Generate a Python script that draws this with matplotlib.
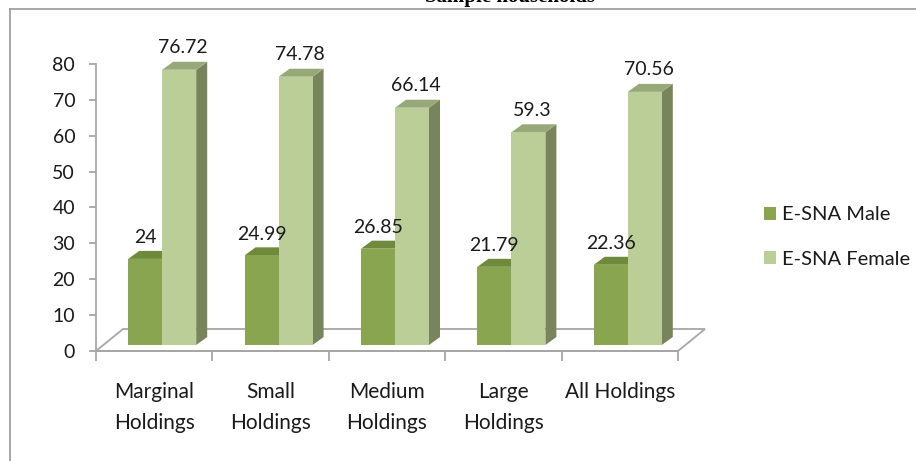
import matplotlib
matplotlib.use("Agg")
import matplotlib.pyplot as plt
from matplotlib.patches import Polygon, Patch
from matplotlib.lines import Line2D
import numpy as np

categories = ["Marginal\nHoldings", "Small\nHoldings", "Medium\nHoldings", "Large\nHoldings", "All Holdings"]
male = [24, 24.99, 26.85, 21.79, 22.36]
female = [76.72, 74.78, 66.14, 59.3, 70.56]
labels_male = ["24", "24.99", "26.85", "21.79", "22.36"]
labels_female = ["76.72", "74.78", "66.14", "59.3", "70.56"]

W, H = 916, 461
plt.rcParams['font.family'] = ['Lato', 'DejaVu Sans']
fig = plt.figure(figsize=(W / 100, H / 100), dpi=100)

# axes placed in pixels: x from 97 to 679, y=0 at 351, y=80 at 64
ax_l, ax_r, ax_b, ax_t = 96, 678, 351, 64
ax = fig.add_axes([ax_l / W, (H - ax_b) / H, (ax_r - ax_l) / W, (ax_b - ax_t) / H])
ax.set_xlim(-0.5, 4.5)
ax.set_ylim(0, 80)
pxx = (ax_r - ax_l) / 5.0   # px per x unit
pxy = (ax_b - ax_t) / 80.0  # px per y unit

grey = "#A6A6A6"
txt = "#1a1a1a"

# floor outline (3D look)
fdx, fdy = 27 / pxx, 22 / pxy
floor = Polygon([(-0.5, 0), (4.5, 0), (4.5 + fdx, fdy), (-0.5 + fdx, fdy)],
                closed=True, fill=False, edgecolor=grey, lw=1.3, clip_on=False, zorder=1)
ax.add_patch(floor)

# bars
bw = 34 / pxx
shift = 8 / pxx
lift = 6 / pxy
ddx, ddy = 11 / pxx, 8 / pxy
cols_m = ("#8AA54F", "#6E8A3A", "#647D36")
cols_f = ("#BBCE97", "#97A979", "#78855C")

def bar3d(x0, val, cols, z):
    front, top, side = cols
    b = lift
    t = lift + val
    x1 = x0 + bw
    ax.add_patch(Polygon([(x1, b), (x1 + ddx, b + ddy), (x1 + ddx, t + ddy), (x1, t)],
                         closed=True, facecolor=side, edgecolor="none", clip_on=False, zorder=z))
    ax.add_patch(Polygon([(x0, t), (x1, t), (x1 + ddx, t + ddy), (x0 + ddx, t + ddy)],
                         closed=True, facecolor=top, edgecolor="none", clip_on=False, zorder=z))
    ax.add_patch(Polygon([(x0, b), (x1, b), (x1, t), (x0, t)],
                         closed=True, facecolor=front, edgecolor="none", clip_on=False, zorder=z + 0.5))

x = np.arange(len(categories))
for i in x:
    xm = i + shift - bw
    xf = i + shift
    bar3d(xm, male[i], cols_m, 2)
    bar3d(xf, female[i], cols_f, 3)
    ax.text(xm + bw / 2, lift + male[i] + 21 / pxy, labels_male[i],
            ha="center", va="center", fontsize=14, color=txt, zorder=5)
    ax.text(xf + bw / 2 + 4 / pxx, lift + female[i] + 22 / pxy, labels_female[i],
            ha="center", va="center", fontsize=14, color=txt, zorder=5)

# axes styling
for s in ["top", "right"]:
    ax.spines[s].set_visible(False)
for s in ["left", "bottom"]:
    ax.spines[s].set_color(grey)
    ax.spines[s].set_linewidth(1.3)
ax.set_yticks(np.arange(0, 81, 10))
ax.tick_params(axis="y", colors=grey, labelcolor=txt, labelsize=14, length=5, width=1.3, pad=10)
ax.set_xticks(np.arange(-0.5, 5, 1))
ax.set_xticklabels([])
ax.tick_params(axis="x", which="major", colors=grey, length=7, width=1.3)
ax.set_xticks(x, minor=True)
ax.set_xticklabels(categories, minor=True, fontsize=15, color=txt, linespacing=1.7)
ax.tick_params(axis="x", which="minor", length=0, pad=22)
ax.patch.set_alpha(0)

# legend
handles = [Patch(facecolor=cols_m[0], edgecolor="none", label="E-SNA Male"),
           Patch(facecolor=cols_f[0], edgecolor="none", label="E-SNA Female")]
fig.legend(handles=handles, loc="center left", bbox_to_anchor=(764 / W, 1 - 237 / H),
           frameon=False, fontsize=14.5, handlelength=0.6, handleheight=0.6,
           handletextpad=0.3, labelspacing=1.35, borderpad=0, borderaxespad=0,
           labelcolor=txt)

# outer border and clipped title
fig.add_artist(Line2D([10 / W, 10 / W], [0, 1 - 9 / H], color="#999999", lw=1.2))
fig.add_artist(Line2D([10 / W, 1], [1 - 9 / H, 1 - 9 / H], color="#999999", lw=1.2))
fig.text(510 / W, 1 - 2 / H, "Sample households", ha="center", va="baseline",
         fontsize=15, fontweight="bold", family="Liberation Serif", color="black")

fig.savefig("out.png", dpi=100)
